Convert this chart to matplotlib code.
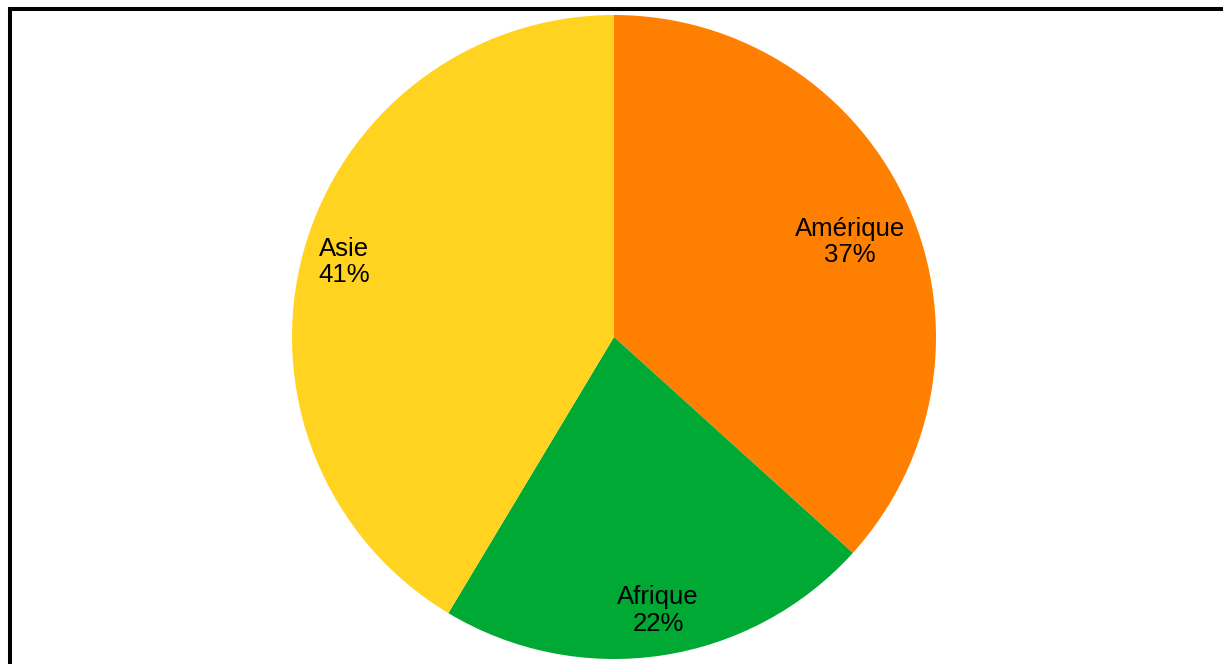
import numpy as np
import matplotlib
matplotlib.use("Agg")
import matplotlib.pyplot as plt
from matplotlib.patches import Rectangle

plt.rcParams["font.family"] = ["Liberation Sans", "DejaVu Sans"]

labels = ["Amérique", "Afrique", "Asie"]
shares = [36.7, 21.9, 41.4]
colors = ["#FF8000", "#00A933", "#FFD320"]
label_r = [0.79, 0.86, 0.87]
label_shift = [-2, 0.7, 0]  # degrees, nudge along the arc

W, H = 1223, 664
fig = plt.figure(figsize=(W / 100, H / 100), dpi=100)

# frame, cut off at right and bottom like the reference
fig.add_artist(Rectangle((10 / W, -0.05), 1.1, 1 - 9 / H + 0.05,
                         transform=fig.transFigure, fill=False,
                         edgecolor="black", linewidth=2.9))

ax = fig.add_axes([292 / W, 5 / H, 644 / W, 644 / H])
wedges, _ = ax.pie(shares, colors=colors, startangle=90, counterclock=False,
                   wedgeprops=dict(linewidth=0))
total = sum(shares)
for w, lab, val, r, d in zip(wedges, labels, shares, label_r, label_shift):
    ang = np.deg2rad((w.theta1 + w.theta2) / 2 + d)
    ax.text(r * np.cos(ang), r * np.sin(ang), f"{lab}\n{val / total * 100:.0f}%",
            ha="center", va="center", fontsize=18.5, linespacing=1.12)
ax.set_xlim(-1, 1)
ax.set_ylim(-1, 1)
ax.set_aspect("equal")
ax.axis("off")

fig.savefig("out.png", dpi=100)
